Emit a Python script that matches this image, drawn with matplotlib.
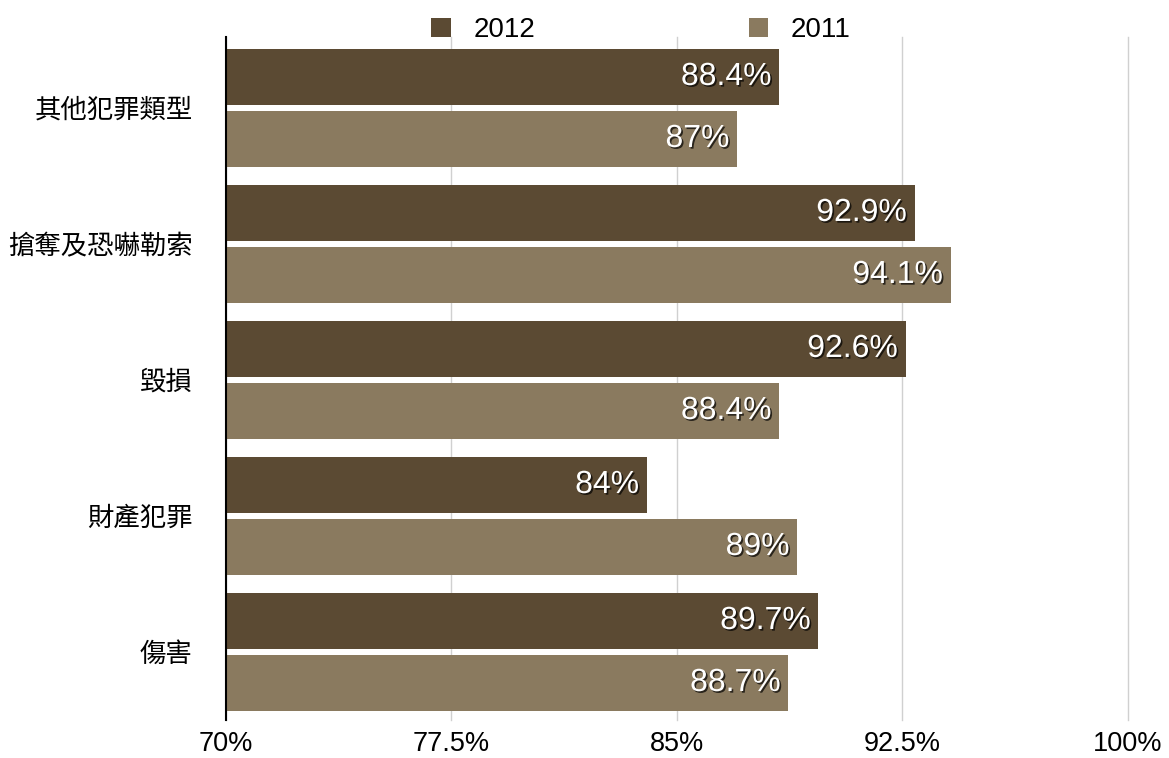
import matplotlib
matplotlib.use('Agg')
import matplotlib.pyplot as plt
import matplotlib.patheffects as pe
import numpy as np

plt.rcParams['font.family'] = ['Liberation Sans', 'Noto Sans CJK TC']

categories = ['其他犯罪類型', '搶奪及恐嚇勒索', '毀損', '財產犯罪', '傷害']
v2012 = [88.4, 92.9, 92.6, 84, 89.7]
v2011 = [87, 94.1, 88.4, 89, 88.7]
xticks = [70, 77.5, 85, 92.5, 100]

c_dark = '#5b4a33'
c_light = '#8a7a5f'

fig = plt.figure(figsize=(11.69, 7.58), dpi=100)
ax = fig.add_axes([226/1169, 1-720/758, 902/1169, 683/758])

y = np.arange(len(categories))
h = 0.41
off = 0.228
ax.barh(y - off, np.array(v2012) - 70, left=70, height=h, color=c_dark, label='2012', zorder=2)
ax.barh(y + off, np.array(v2011) - 70, left=70, height=h, color=c_light, label='2011', zorder=2)

shadow = [pe.withSimplePatchShadow(offset=(1.2, -1.2), shadow_rgbFace='black', alpha=0.7)]
for yy, v in zip(y - off, v2012):
    ax.annotate(f'{v:g}%', (v, yy), xytext=(-5.5, 0), textcoords='offset points',
                ha='right', va='center', color='white', fontsize=23, path_effects=shadow, zorder=3)
for yy, v in zip(y + off, v2011):
    ax.annotate(f'{v:g}%', (v, yy), xytext=(-5.5, 0), textcoords='offset points',
                ha='right', va='center', color='white', fontsize=23, path_effects=shadow, zorder=3)

ax.set_xlim(70, 100)
ax.set_ylim(4.5, -0.522)
ax.set_xticks(xticks)
ax.set_xticklabels([f'{t:g}%' for t in xticks], fontsize=19.5)
ax.set_yticks(y)
ax.set_yticklabels(categories, fontsize=19)
ax.tick_params(axis='y', length=0, pad=24)
ax.tick_params(axis='x', length=0, pad=8)
ax.grid(axis='x', color='#d0d0d0', linewidth=1, zorder=0)
for gl in ax.get_xgridlines():
    gl.set_clip_on(False)
for s in ['top', 'right', 'bottom']:
    ax.spines[s].set_visible(False)
ax.spines['left'].set_color('black')
ax.spines['left'].set_linewidth(1.5)
ax.spines['left'].set_zorder(4)

ax.legend(ncol=2, loc='lower center', bbox_to_anchor=(0.46, 0.975), frameon=False,
          fontsize=20, handlelength=0.7, handleheight=0.7, columnspacing=7.7, handletextpad=0.8,
          borderaxespad=0)

fig.savefig('out.png', dpi=100)
